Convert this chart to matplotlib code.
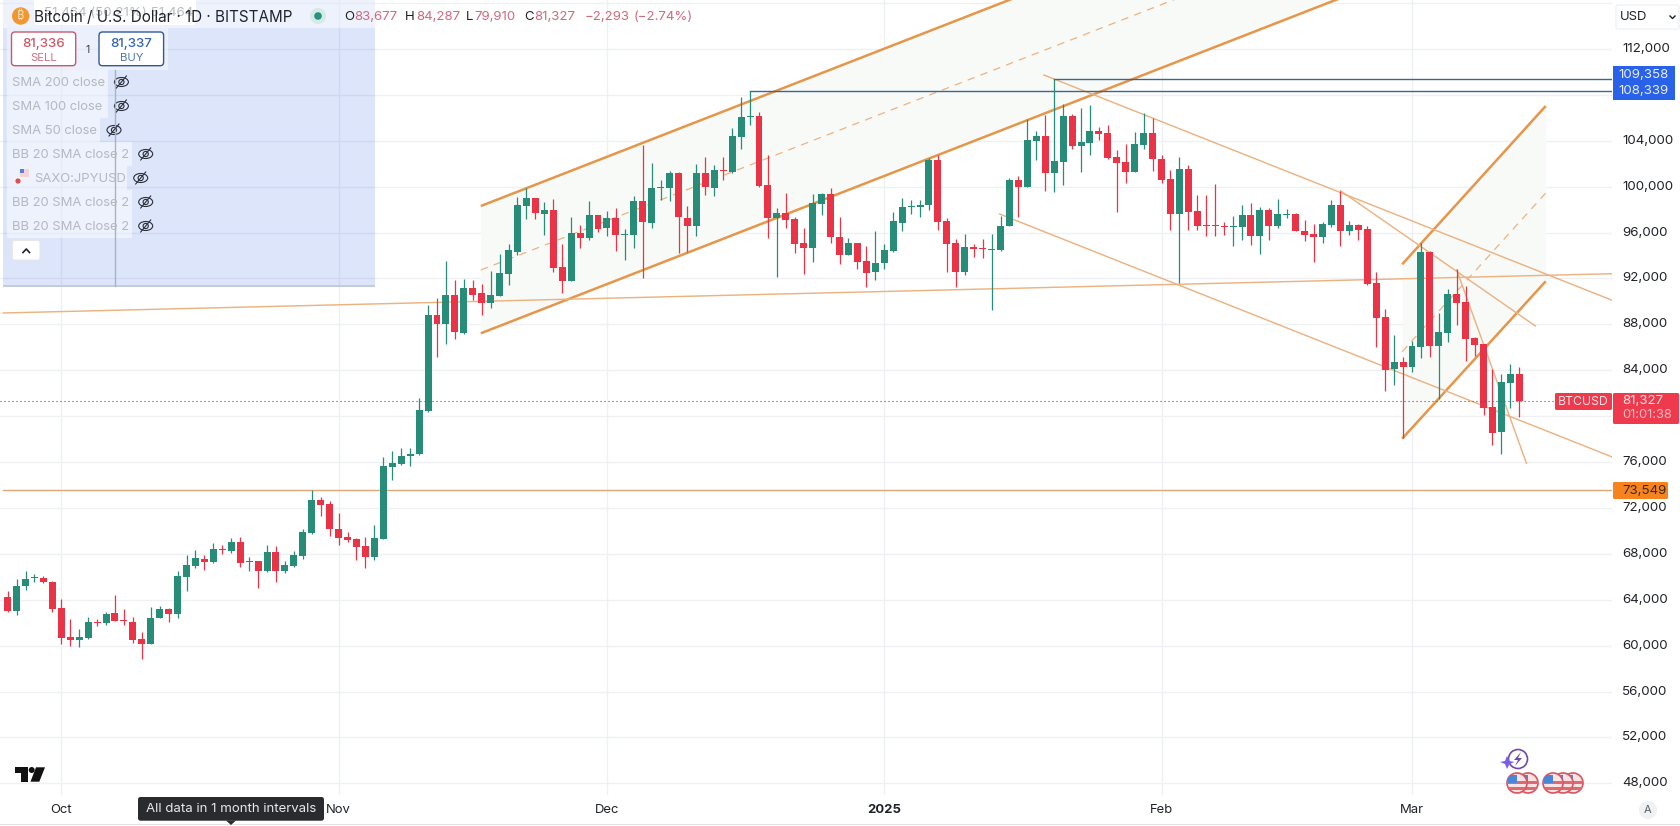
import numpy as np
import matplotlib
matplotlib.use("Agg")
import matplotlib.pyplot as plt
from matplotlib.patches import Rectangle, Circle, Ellipse, FancyBboxPatch, Polygon

plt.rcParams['font.family'] = ['Inter', 'DejaVu Sans']

# ---------- data (days counted from 1 Oct 2024, prices in USD) ----------
days = list(range(-6, 164))
opens = [64277,63057,65178,65875,65933,65585,63319,60791,60530,60675,
62099,62012,62883,62244,62099,60617,60181,62447,63232,62796,
66021,66979,67589,67328,68460,68286,69071,67328,67415,66543,
68199,66543,66979,67851,69855,72731,72382,70203,69506,69332,
68722,67764,69332,75607,75868,76508,76693,80440,88807,88022,
90550,87238,91159,90724,89852,90462,92380,94346,98355,99052,
97658,98007,93039,91819,96002,95566,97571,96438,97309,95828,
95828,98791,96874,99866,99924,101231,97309,96612,101231,99924,
101492,101318,104368,106112,106199,100185,97309,97745,97222,95130,
94695,98529,99401,95653,94085,95130,93562,92603,93322,94366,
96802,98194,98252,98368,102283,96976,95062,92539,94714,94598,
94482,94453,96541,100543,99934,104023,104458,101152,102109,106198,
103588,103849,104893,104719,102631,102109,101239,103675,104719,102457,
100630,97585,101500,97846,96628,96628,96541,96454,96454,97498,
95671,97933,96541,97556,97585,96106,95845,95584,96628,98368,
96106,96628,96280,91595,88638,84115,84724,84289,86028,94291,
86115,87246,90638,89942,86811,86289,80810,78636,82898,83677]
highs = [64800,65817,66543,66282,66108,65643,64074,62360,61489,62505,
62360,62970,64452,63232,62505,61227,63377,63493,63319,66543,
67938,68374,67938,68983,68809,69419,69506,67764,67415,68809,
68722,67415,68286,70203,73603,72992,72644,71598,69942,69419,
69506,70552,76478,77001,77263,77263,81573,89678,90288,93513,
91857,91944,91857,91508,92641,94123,94994,99139,99924,99052,
98703,98965,95043,97396,96699,98791,97571,97919,98181,96351,
99227,103671,102103,100621,101405,101318,98355,102015,102625,101928,
102625,105153,107854,108339,106547,102800,98181,99488,97396,96438,
99401,99488,99924,97396,95566,95130,94869,96176,94975,97759,
98977,98803,98803,102544,102805,97237,95410,95845,94975,95410,
95845,97411,100717,100891,105937,104893,106285,109358,107242,106372,
106894,107155,105241,105415,103240,103762,104806,106459,106024,102805,
101413,102631,101848,99238,99238,100195,96889,97411,98368,98542,
98194,98107,98890,98020,97730,97063,96715,96889,98803,99586,
96976,96715,96541,92551,89333,87072,85159,86550,95073,94378,
88986,91073,92812,91334,86898,86289,84115,83680,84550,84287]
lows = [62970,62709,64888,65527,65469,62912,60181,60007,59920,60588,
61750,61837,62186,61837,60269,58874,60152,62447,62099,62447,
64800,66805,66630,67240,68025,68112,66892,66543,65062,66456,
65585,66369,66892,67589,69768,71337,69594,68809,69071,67502,
66805,67502,69332,74474,75781,75694,76606,80382,85146,86279,
86715,87151,90114,88807,89417,90462,91421,94085,97222,97222,
95828,92603,90773,91819,94695,95392,96089,95741,94433,93649,
94695,92080,96438,98878,98791,94259,94346,95741,99314,99227,
100621,101231,103323,105414,100011,95566,92168,96438,94259,92429,
93475,97571,95130,93300,94085,92864,91296,91906,92800,94279,
96106,97585,97324,97933,96193,92539,91234,92278,93844,93757,
89233,94366,96541,97324,99934,102283,99586,99499,100108,103327,
101239,102805,104110,102457,97759,100282,101239,103327,101326,100282,
96193,91582,96193,96193,95671,95671,95758,94801,95323,94888,
94105,95323,96367,97237,96106,95236,93409,95062,96454,94801,
95758,95323,91408,86028,82202,82724,78114,83854,85072,85159,
81506,86463,87942,84811,85246,80114,77505,76723,80724,79910]
closes = [63057,65236,65846,65991,65527,63232,60704,60530,60791,62099,
62012,62796,62186,62157,60530,60181,62447,63232,62796,66108,
67066,67676,67328,68460,68374,69071,67240,67415,66543,68199,
66543,67066,67938,69942,72731,72295,70203,69419,69216,68635,
67764,69419,75694,75955,76566,76740,80528,88807,88022,90550,
87325,91159,90550,89852,90550,92467,94471,98442,99052,97745,
98007,92952,91819,96002,95566,97571,96351,97309,95828,95915,
98791,96961,99924,99953,101231,97396,96612,101231,100011,101492,
101405,104456,106112,106199,100098,97309,97745,97135,95043,94695,
98617,99401,95653,94085,95130,93475,92516,93388,94453,96976,
98194,98281,98368,102283,96889,94975,92539,94714,94540,94540,
94540,96541,100543,99934,104110,104458,101152,102196,106198,103588,
103936,104893,104632,102544,102022,101239,103762,104719,102370,100543,
97585,101500,97759,96541,96541,96541,96454,96541,97498,95671,
97933,96541,97585,97643,96106,95758,95613,96715,98368,96106,
96628,96193,91495,88551,84028,84724,84289,86115,94291,86115,
87333,90638,89855,86724,86202,80724,78549,82985,83680,81327]

y_ticks = list(range(48000, 116001, 4000))
hidden_ticks = [80000, 108000, 116000]   # behind the price tags / cut off in the reference
y_labels = ["" if v in hidden_ticks else f"{v:,}" for v in y_ticks]
month_days = [0, 31, 61, 92, 123, 151]
month_labels = ["Oct", "Nov", "Dec", "2025", "Feb", "Mar"]

last_price = 81327
support_price = 73549
peak_a = (77, 108339)
peak_b = (111, 109358)

# parallel channels: (day0, price0, day1, price1)
chan1_up = (46.9, 98317, 143.0, 127531)
chan1_mid = (46.9, 92740, 143.0, 121954)
chan1_lo = (46.9, 87223, 143.0, 116437)
chan2_up = (149.9, 93237, 165.95, 107032)
chan2_mid = (149.9, 85620, 165.95, 99450)
chan2_lo = (149.9, 78038, 165.95, 91755)
trend_lines = [(-6.5, 88992, 173.3, 92417),
               (109.85, 109734, 173.3, 90125),
               (104.9, 97620, 173.3, 76470),
               (143.0, 99650, 164.8, 87860),
               (156.0, 92740, 163.8, 75890)]

# ---------- colours ----------
GREEN, RED = '#278d78', '#e93448'
ORANGE, ORANGE_T = '#e5964a', '#ecb382'
GRID = '#eef0f3'
FILL = '#f8faf7'
BLUE_L = '#3a6792'
TXT = '#1f2229'

W, H = 1681, 826
PANE_R, PANE_B = 1612, 795
fig = plt.figure(figsize=(W / 100, H / 100), dpi=100, facecolor='white')
ax = fig.add_axes([0, 1 - PANE_B / H, PANE_R / W, PANE_B / H])
ax.set_xlim(-61.3 / 8.945, (PANE_R - 61.3) / 8.945)
ax.set_ylim(112000 - (PANE_B - 49) * 87.15, 112000 + 49 * 87.15)
for s in ax.spines.values():
    s.set_visible(False)
ax.set_axisbelow(True)
ax.grid(True, color=GRID, lw=1)
ax.yaxis.tick_right()
ax.set_yticks(y_ticks, y_labels, fontsize=9.6, color=TXT, va='center')
ax.set_xticks(month_days, month_labels, fontsize=9.4, color=TXT)
ax.tick_params(axis='both', length=0)
ax.tick_params(axis='y', pad=7.2)
ax.tick_params(axis='x', pad=6.2)
ax.get_xticklabels()[3].set_fontweight('bold')

# channels
for up, lo, mid in [(chan1_up, chan1_lo, chan1_mid), (chan2_up, chan2_lo, chan2_mid)]:
    ax.fill_between([up[0], up[2]], [lo[1], lo[3]], [up[1], up[3]],
                    color=FILL, lw=0, zorder=1)
    for c in (up, lo):
        ax.plot([c[0], c[2]], [c[1], c[3]], color=ORANGE, lw=1.8, zorder=2,
                solid_capstyle='butt')
    ax.plot([mid[0], mid[2]], [mid[1], mid[3]], color=ORANGE_T, lw=0.9,
            ls=(0, (6, 5)), zorder=2)
for t in trend_lines:
    ax.plot([t[0], t[2]], [t[1], t[3]], color=ORANGE_T, lw=1.05, zorder=2)
ax.plot([-6.5, 173.36], [support_price, support_price], color='#dba876', lw=1.0, zorder=2)
ax.plot([peak_a[0], 173.36], [peak_a[1], peak_a[1]], color=BLUE_L, lw=1.0, zorder=2)
ax.plot([peak_b[0], 173.36], [peak_b[1], peak_b[1]], color=BLUE_L, lw=1.0, zorder=2)

# candles
o, h, l, c, d = map(np.array, (opens, highs, lows, closes, days))
cols = np.where(c >= o, GREEN, RED)
ax.vlines(d, l, h, colors=cols, lw=0.9, zorder=3)
ax.bar(d, np.maximum(np.abs(c - o), 90), bottom=np.minimum(o, c), width=0.78,
       color=cols, lw=0, zorder=3)
ax.plot([-6.85, (1555 - 61.3) / 8.945], [last_price, last_price], color='#7a4350',
        lw=0.8, ls=(0, (1, 2.6)), zorder=4)

# ---------- interface overlay, in screen pixels ----------
ov = fig.add_axes([0, 0, 1, 1], zorder=10)
ov.set_xlim(0, W)
ov.set_ylim(H, 0)
ov.axis('off')
ov.patch.set_visible(False)


def rect(x0, y0, x1, y1, **kw):
    kw.setdefault('lw', 0)
    ov.add_patch(Rectangle((x0, y0), x1 - x0, y1 - y0, **kw))


def rbox(x0, y0, x1, y1, r=3, **kw):
    ov.add_patch(FancyBboxPatch((x0 + r, y0 + r), x1 - x0 - 2 * r, y1 - y0 - 2 * r,
                                boxstyle=f"round,pad={r},rounding_size={r}", **kw))


def txt(x, y, s, size=9.4, color=TXT, ha='left', va='center', **kw):
    ov.text(x, y + 1, s, fontsize=size, color=color, ha=ha, va=va, **kw)


# blue panel
rect(3, 0, 375, 286, facecolor=(0.2, 0.4, 0.9), alpha=0.17)
rect(3, 284.5, 375, 287, facecolor='#c5cbd8')
rect(3, 0, 375, 28, facecolor='white', alpha=0.5)
rect(7, 28, 168, 70, facecolor='white', alpha=0.45)
ov.plot([115, 115], [70, 286], color='#a8b2c8', lw=1)

rows = [("SMA 200 close", 82, 108, 121.4), ("SMA 100 close", 106, 108, 121.4),
        ("SMA 50 close", 130, 100, 114), ("BB 20 SMA close 2", 154, 132, 145.7),
        ("SAXO:JPYUSD", 178, 127, 140.7), ("BB 20 SMA close 2", 202, 132, 145.7),
        ("BB 20 SMA close 2", 226, 132, 145.7)]
for label, y, xr, ex in rows:
    rect(7, y - 12, xr, y + 12, facecolor='white', alpha=0.5)
    lx = 34 if label.startswith("SAXO") else 12
    txt(lx, y, label, size=9.4, color='#b4b8c2')
    ov.add_patch(Ellipse((ex, y), 14, 9, fc='none', ec='#2a2e39', lw=0.8))
    ov.add_patch(Circle((ex, y), 2.6, fc='none', ec='#2a2e39', lw=0.8))
    ov.plot([ex - 5, ex + 5], [y + 6, y - 6], color='#2a2e39', lw=0.8)
ov.add_patch(Circle((18, 181), 2.6, fc='#e5484d', lw=0))
rect(20, 169, 29, 177, facecolor='#f4d3d6')
rect(20, 169, 24, 173, facecolor='#5b7fd6')
rbox(12.5, 240.5, 40, 260, r=2, fc='white', ec='#e6e8ee', lw=0.8)
ov.plot([23, 26.3, 29.5], [252.5, 249, 252.5], color='#1f2229', lw=1.2)

# header
rbox(34, -6, 196, 25, r=4, fc='white', ec='none')
txt(44, 12, "51,464 (50.21%) 51,464", size=9.6, color='#b9bcc4')
ov.add_patch(Circle((20.7, 16), 8.7, fc='#f2962f', lw=0))
txt(20.7, 15, "₿", size=9, color='#fbe3c4', ha='center',
    family=['Noto Sans', 'Roboto', 'Open Sans', 'Lato', 'Inter', 'DejaVu Sans'])
txt(34, 16, "Bitcoin / U.S. Dollar · 1D · BITSTAMP", size=10.95, color='#20232b')
ov.add_patch(Circle((318, 16), 8, fc='#d5ebe6', lw=0))
ov.add_patch(Circle((318, 16), 3.8, fc='#2a9080', lw=0))
VAL = '#cf6a7d'
for x, s, col in [(344, "O", TXT), (354.7, "83,677", VAL), (405, "H", TXT), (416, "84,287", VAL),
                  (466, "L", TXT), (474.7, "79,910", VAL), (524.7, "C", TXT), (534.7, "81,327", VAL),
                  (585, "−2,293", VAL), (634, "(−2.74%)", VAL)]:
    txt(x, 16, s, size=9.5, color=col)

# buy / sell
rbox(11.5, 32, 75.7, 65.7, r=3.5, fc='white', ec='#c9586a', lw=1.0)
rbox(99, 32, 163.6, 65.7, r=3.5, fc='white', ec='#2f5a9a', lw=1.0)
txt(43.5, 42.5, "81,336", size=9.6, color='#c9586a', ha='center', fontweight='medium')
txt(43.5, 57, "SELL", size=8.2, color='#cf7381', ha='center')
txt(131.3, 42.5, "81,337", size=9.6, color='#3565ad', ha='center', fontweight='medium')
txt(131.3, 57, "BUY", size=8.2, color='#4d76b3', ha='center')
txt(87.5, 49, "1", size=7.5, color='#333842', ha='center')

# right scale
rbox(1616, 5, 1679, 29, r=2, fc='white', ec='#eceef2', lw=0.8)
txt(1620, 16.5, "USD", size=9.4)
ov.plot([1670, 1672.5, 1675], [16, 18.5, 16], color=TXT, lw=1)
rect(1613, 66, 1675, 100, facecolor='#2962e8')
txt(1669, 73.5, f"{peak_b[1]:,}", size=9.6, color='#e6ecff', ha='right')
txt(1669, 90.5, f"{peak_a[1]:,}", size=9.6, color='#e6ecff', ha='right')
rbox(1555, 393, 1612, 410, r=1.5, fc='#ee3a4c', ec='none')
txt(1583.5, 401, "BTCUSD", size=8.8, color='#fde3e6', ha='center')
rbox(1613, 393, 1679, 424, r=1.5, fc='#ee3a4c', ec='none')
txt(1622, 400, f"{last_price:,}", size=9.6, color='#fde3e6')
txt(1622, 414, "01:01:38", size=9.3, color='#f9b9c0')
rbox(1613, 482, 1668, 499, r=1.5, fc='#f5841f', ec='none')
txt(1622, 490, f"{support_price:,}", size=9.6, color='#3b2a18')

# bottom furniture
rect(0, 823.5, W, 824.5, facecolor='#dfe1e6')
ov.add_patch(Circle((1648, 810), 9, fc='#f0f1f3', lw=0))
txt(1648, 809, "A", size=8, color='#5b606b', ha='center')
ov.add_patch(Polygon([(15, 767.3), (28.3, 767.3), (28.3, 781.7), (20.7, 781.7), (20.7, 772.5), (15, 772.5)],
                     fc='#111111', lw=0))
ov.add_patch(Circle((31.7, 770), 3, fc='#111111', lw=0))
ov.add_patch(Polygon([(36, 767.3), (45, 767.3), (39.3, 781.7), (30.5, 781.7)], fc='#111111', lw=0))
rbox(138, 797, 324, 820.7, r=2.5, fc='#2a2b2e', ec='none')
ov.add_patch(Polygon([(226, 820.5), (236, 820.5), (231, 825)], fc='#2a2b2e', lw=0))
txt(231, 808.5, "All data in 1 month intervals", size=9.5, color='#e8e9eb', ha='center')

# calendar event badges
ov.add_patch(Circle((1518, 759), 9.5, fc='white', ec='#6d4ba8', lw=1.2))
ov.add_patch(Polygon([(1521, 752), (1514, 760), (1518, 760), (1515, 766), (1522, 758), (1518, 758)],
                     fc='#6d4ba8', lw=0))
ov.add_patch(Polygon([(1507, 756), (1509.5, 761), (1514.5, 762), (1509.5, 764), (1507, 769),
                      (1505, 764), (1500, 762), (1505, 761)], fc='#7a5de8', lw=0))
for cx in (1528, 1517, 1573, 1563, 1553):
    disc = Circle((cx, 783), 10, fc='#fbe3e4', ec='#d9535d', lw=1.2)
    ov.add_patch(disc)
    for dy in (-2.5, 3.5):
        r_ = Rectangle((cx - 10, 783 + dy), 20, 3, fc='#dc6a72', lw=0)
        ov.add_patch(r_)
        r_.set_clip_path(disc)
    b_ = Rectangle((cx - 9, 775), 9, 8, fc='#4a86d8', lw=0)
    ov.add_patch(b_)
    b_.set_clip_path(disc)

fig.savefig("out.png", dpi=100, facecolor='white')
